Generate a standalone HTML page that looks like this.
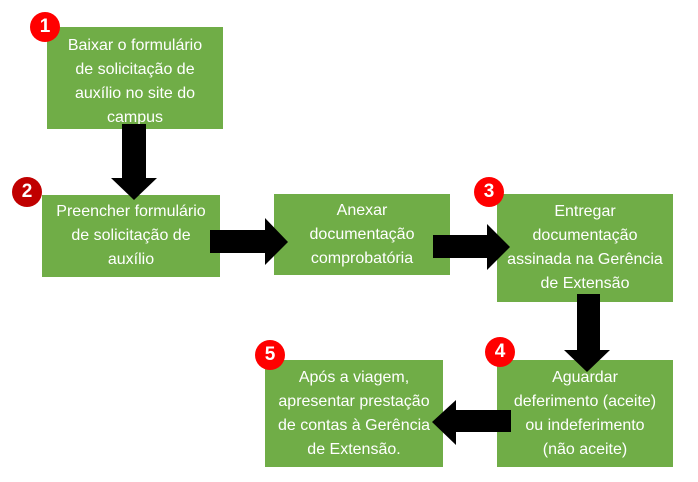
<!DOCTYPE html>
<html><head><meta charset="utf-8"><style>
body{margin:0;width:698px;height:482px;background:#fff;position:relative;overflow:hidden;font-family:"Liberation Sans",sans-serif}
.b{position:absolute;background:#70AD47;color:#fff;font-size:16px;line-height:24px;text-align:center;display:flex;align-items:center;justify-content:center;white-space:nowrap}
.c{position:absolute;width:30px;height:30px;border-radius:50%;color:#fff;font-size:19px;font-weight:bold;text-align:center;line-height:30px}
svg{position:absolute;left:0;top:0}
</style></head><body>
<div class="b" style="left:47px;top:27px;width:176px;height:102px;align-items:flex-start;padding-top:7px;box-sizing:border-box">Baixar o formulário<br>de solicitação de<br>auxílio no site do<br>campus</div>
<div class="b" style="left:42px;top:195px;width:178px;height:82px">Preencher formulário<br>de solicitação de<br>auxílio</div>
<div class="b" style="left:274px;top:194px;width:176px;height:81px">Anexar<br>documentação<br>comprobatória</div>
<div class="b" style="left:497px;top:194px;width:176px;height:108px">Entregar<br>documentação<br>assinada na Gerência<br>de Extensão</div>
<div class="b" style="left:497px;top:360px;width:176px;height:107px">Aguardar<br>deferimento (aceite)<br>ou indeferimento<br>(não aceite)</div>
<div class="b" style="left:265px;top:360px;width:178px;height:107px">Após a viagem,<br>apresentar prestação<br>de contas à Gerência<br>de Extensão.</div>
<svg width="698" height="482">
<polygon fill="#000" points="122,124 146,124 146,178 157,178 134,200 111,178 122,178"/>
<polygon fill="#000" points="210,230 265,230 265,218 288,242 265,265 265,253 210,253"/>
<polygon fill="#000" points="433,235 487,235 487,224 510,247 487,270 487,258 433,258"/>
<polygon fill="#000" points="577,294 600,294 600,350 610,350 587,372 564,350 577,350"/>
<polygon fill="#000" points="511,410 456,410 456,400 432,422 456,445 456,432 511,432"/>
</svg>
<div class="c" style="left:30px;top:12px;background:#f00">1</div>
<div class="c" style="left:12px;top:177px;background:#c00000">2</div>
<div class="c" style="left:474px;top:177px;background:#f00">3</div>
<div class="c" style="left:485px;top:337px;background:#f00">4</div>
<div class="c" style="left:255px;top:340px;background:#f00">5</div>
</body></html>
